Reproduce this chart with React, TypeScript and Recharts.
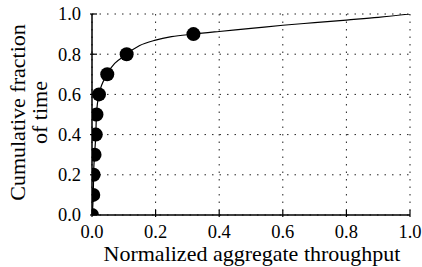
import React from 'react';
import {
  ComposedChart,
  Line,
  Scatter,
  XAxis,
  YAxis,
  CartesianGrid,
} from 'recharts';

// marker points (throughput, cumulative fraction)
const markerX = [0.0, 0.004, 0.005, 0.008, 0.012, 0.014, 0.022, 0.048, 0.109, 0.319];
const markerY = [0.0, 0.1, 0.2, 0.3, 0.4, 0.5, 0.6, 0.7, 0.8, 0.9];

// thin CDF curve
const curveX = [0.0, 0.004, 0.005, 0.008, 0.012, 0.014, 0.022, 0.048, 0.109, 0.15, 0.2, 0.25, 0.319, 0.4, 0.5, 0.6, 0.7, 0.8, 0.9, 1.0];
const curveY = [0.0, 0.1, 0.2, 0.3, 0.4, 0.5, 0.6, 0.7, 0.8, 0.843, 0.87, 0.887, 0.9, 0.913, 0.928, 0.944, 0.957, 0.97, 0.983, 1.0];

const ticks = [0, 0.2, 0.4, 0.6, 0.8, 1.0];

const FONT = "'Liberation Serif', 'Times New Roman', serif";
const TICK_LEN = 7;

const markers = markerX.map((x, i) => ({ x, y: markerY[i] }));
const curve = curveX.map((x, i) => ({ x, y: curveY[i] }));

const txt = (size: number) => ({ fontFamily: FONT, fontSize: size, fill: '#000' });

const BottomTick = (props: any) => {
  const { x, y, payload } = props;
  return (
    <g>
      <line x1={x} y1={y} x2={x} y2={y - TICK_LEN} stroke="#000" strokeWidth={1.2} />
      <text x={x} y={y + 20.5} textAnchor="middle" style={txt(18.5)}>
        {payload.value.toFixed(1)}
      </text>
    </g>
  );
};

const LeftTick = (props: any) => {
  const { x, y, payload } = props;
  return (
    <g>
      <line x1={x} y1={y} x2={x + TICK_LEN} y2={y} stroke="#000" strokeWidth={1.2} />
      <text x={x - 9} y={y} dy="0.35em" textAnchor="end" style={txt(18.5)}>
        {payload.value.toFixed(1)}
      </text>
    </g>
  );
};

const TopTick = (props: any) => {
  const { x, y } = props;
  return <line x1={x} y1={y} x2={x} y2={y + TICK_LEN} stroke="#000" strokeWidth={1.2} />;
};

const RightTick = (props: any) => {
  const { x, y } = props;
  return <line x1={x} y1={y} x2={x - TICK_LEN} y2={y} stroke="#000" strokeWidth={1.2} />;
};

const YLabel = (props: any) => {
  const vb = props.viewBox;
  const cy = vb.y + vb.height / 2 - 2;
  return (
    <g>
      <text x={25} y={cy} textAnchor="middle" transform={`rotate(-90, 25, ${cy})`} style={txt(22)}>
        Cumulative fraction
      </text>
      <text x={47} y={cy} textAnchor="middle" transform={`rotate(-90, 47, ${cy})`} style={txt(22)}>
        of time
      </text>
    </g>
  );
};

const XLabel = (props: any) => {
  const vb = props.viewBox;
  return (
    <text x={vb.x + vb.width / 2 + 1} y={260.5} textAnchor="middle" style={txt(22)}>
      Normalized aggregate throughput
    </text>
  );
};

const Dot = (props: any) => <circle cx={props.cx} cy={props.cy} r={7} fill="#000" />;

export default function App() {
  return (
    <div style={{ position: 'fixed', left: 0, top: 0, background: '#fff' }}>
      <ComposedChart width={422} height={267} margin={{ top: 14, right: 12, bottom: 0, left: 0 }}>
        <CartesianGrid stroke="#222" strokeDasharray="1.5 6" strokeWidth={1} />
        <XAxis
          dataKey="x"
          type="number"
          domain={[0, 1]}
          ticks={ticks}
          allowDataOverflow
          height={52}
          tickSize={0}
          tickLine={false}
          axisLine={{ stroke: '#000', strokeWidth: 1.5 }}
          tick={<BottomTick />}
          label={<XLabel />}
        />
        <XAxis
          xAxisId="top"
          orientation="top"
          type="number"
          domain={[0, 1]}
          ticks={ticks}
          allowDataOverflow
          height={0}
          tickSize={0}
          tickLine={false}
          axisLine={{ stroke: '#000', strokeWidth: 1.5 }}
          tick={<TopTick />}
        />
        <YAxis
          dataKey="y"
          type="number"
          domain={[0, 1]}
          ticks={ticks}
          allowDataOverflow
          width={92}
          tickSize={0}
          tickLine={false}
          axisLine={{ stroke: '#000', strokeWidth: 1.5 }}
          tick={<LeftTick />}
          label={<YLabel />}
        />
        <YAxis
          yAxisId="right"
          orientation="right"
          type="number"
          domain={[0, 1]}
          ticks={ticks}
          allowDataOverflow
          width={0}
          tickSize={0}
          tickLine={false}
          axisLine={{ stroke: '#000', strokeWidth: 1.5 }}
          tick={<RightTick />}
        />
        <Line
          data={curve}
          dataKey="y"
          type="monotone"
          stroke="#000"
          strokeWidth={1.2}
          dot={false}
          activeDot={false}
          isAnimationActive={false}
        />
        <Scatter data={markers} dataKey="y" fill="#000" shape={<Dot />} isAnimationActive={false} />
      </ComposedChart>
    </div>
  );
}
